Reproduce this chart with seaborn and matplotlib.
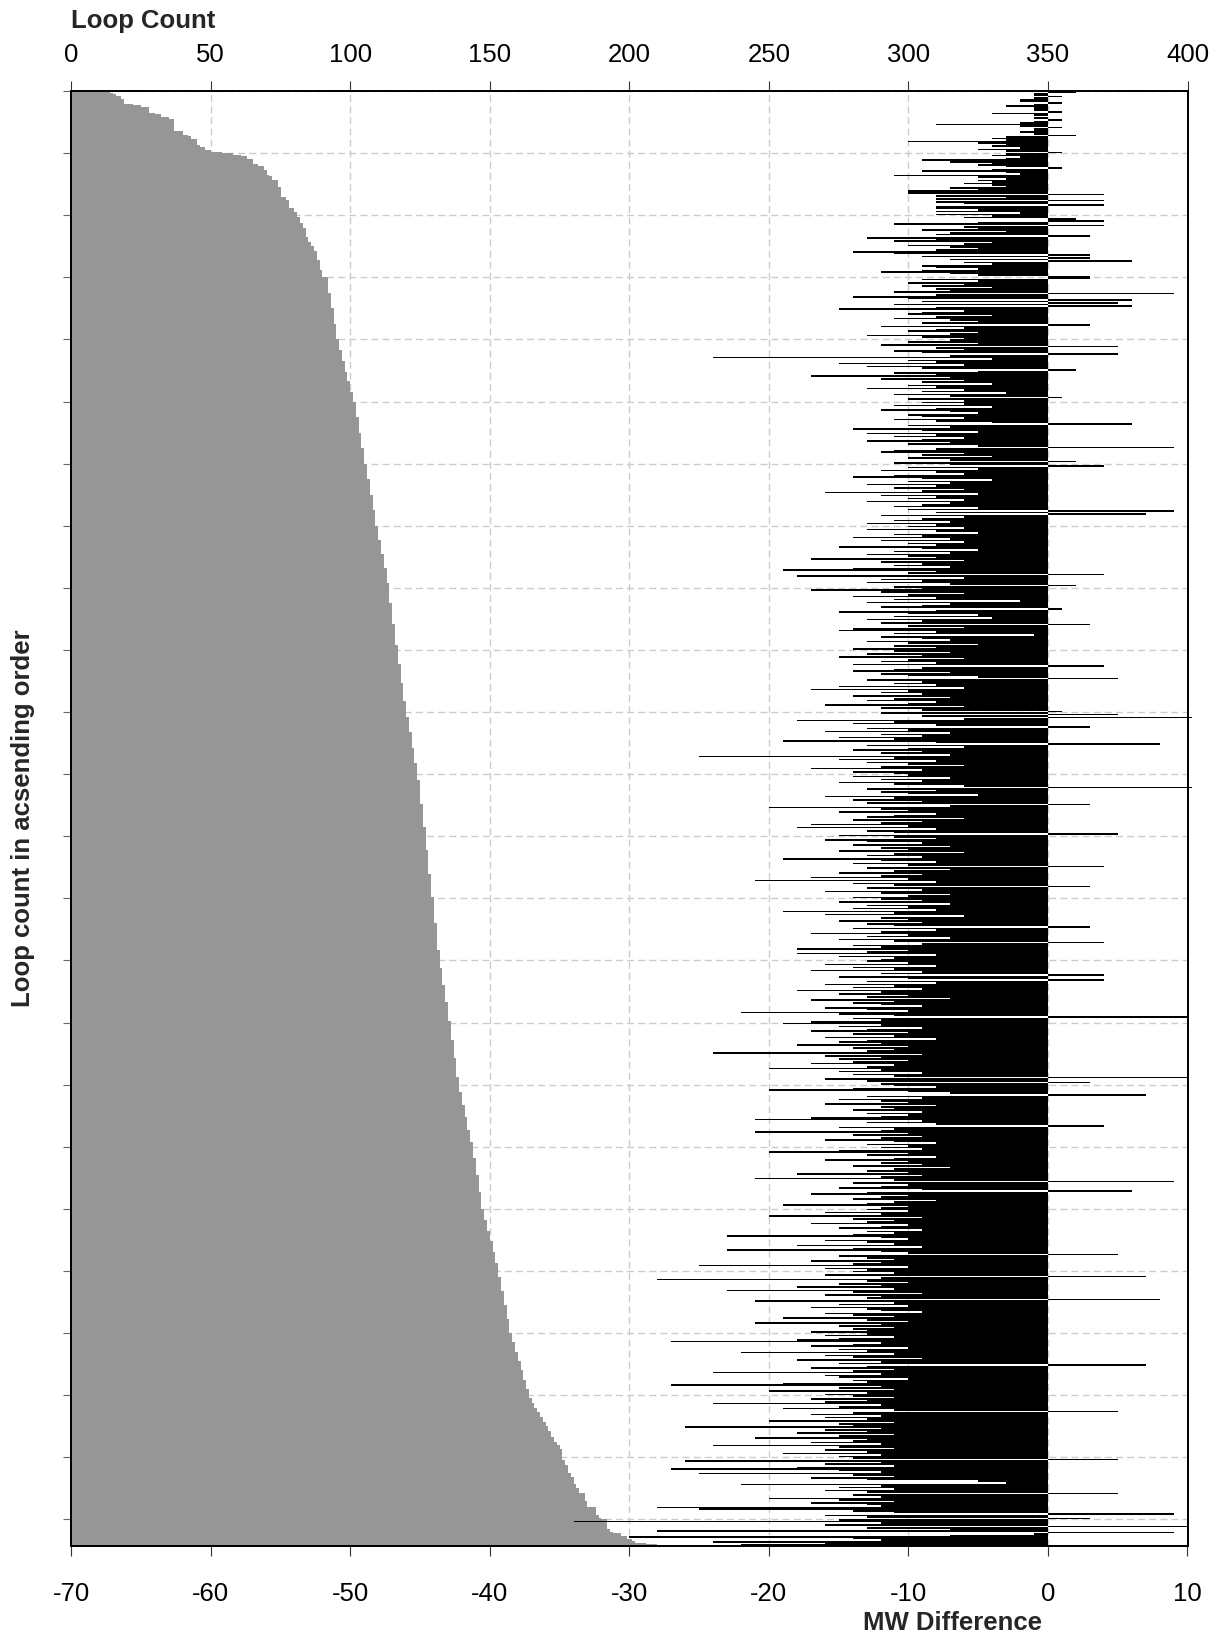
import numpy as np
import pandas as pd
import matplotlib
matplotlib.use("Agg")
import matplotlib.pyplot as plt
import seaborn as sns

# ---------------- data ----------------
# Loop count (sorted ascending), written as run lengths: value, number of rows
lc_values = [14, 15, 16, 18, 19, 22, 25, 28, 30, 32, 35, 37, 40, 42, 43, 45, 46, 48, 50, 54,
             58, 61, 63, 65, 67, 69, 70, 71, 72, 74, 75, 77, 78, 80, 81, 82, 83, 84, 85, 86,
             87, 88, 89, 90, 92, 93, 94, 95, 96, 97, 98, 99, 100, 101, 102, 103, 104, 105,
             106, 107, 108, 109, 110, 111, 112, 113, 114, 115, 116, 117, 118, 119, 120, 121,
             122, 123, 124, 125, 126, 127, 128, 129, 130, 131, 132, 133, 134, 135, 136, 137,
             138, 139, 140, 141, 142, 143, 144, 145, 146, 147, 148, 149, 150, 151, 152, 153,
             154, 155, 156, 157, 158, 159, 160, 161, 162, 163, 164, 165, 166, 167, 168, 169,
             170, 171, 172, 173, 174, 175, 176, 177, 178, 179, 180, 181, 182, 184, 185, 188,
             189, 190, 192, 193, 194, 197, 199, 201, 202, 206, 210]
lc_runs = [1, 1, 1, 2, 3, 1, 1, 4, 1, 2, 1, 8, 2, 1, 2, 4, 1, 2, 1, 1,
           1, 1, 2, 3, 1, 3, 3, 1, 2, 5, 6, 2, 5, 3, 3, 4, 3, 6, 3, 3,
           3, 6, 6, 5, 10, 10, 10, 10, 7, 7, 7, 6, 7, 6, 10, 10, 10, 10,
           10, 10, 10, 10, 9, 9, 9, 10, 13, 13, 14, 12, 12, 12, 10, 10,
           10, 10, 11, 15, 15, 15, 15, 15, 17, 17, 12, 11, 11, 12, 12, 12,
           12, 10, 8, 8, 8, 8, 10, 11, 11, 11, 7, 7, 7, 7, 7, 9,
           9, 9, 9, 9, 6, 6, 6, 6, 6, 6, 6, 3, 3, 3, 3, 3,
           3, 3, 4, 3, 2, 3, 7, 3, 5, 3, 4, 3, 3, 5, 4, 5,
           2, 1, 6, 2, 1, 2, 2, 1, 1, 1, 1]

# MW difference for each row, top to bottom (40 rows per line)
mw_diff = [
    2, -1, -1, 1, -1, -2, -2, 1, -1, -3, -1, -1, -1, 1, -4, -1, 0, -1, 1, -1, -2, -8, -2, 1, -1, -1, -2, -1, 2, -3, -4, -3, -10, -5, -3, -4, -2, -5, -3, 1,
    -3, -4, -2, -3, -9, -7, -4, -5, -3, 1, -4, -9, -3, -2, -11, -5, -3, -5, -4, -6, -4, -3, -7, -5, -10, -10, 4, -8, -3, -8, 4, -8, -6, 4, -8, -8, -5, -8, -2, -8,
    -4, -6, 2, 4, -5, -11, 4, -6, -5, -9, -3, -7, -8, 3, -13, -8, -11, -4, -6, -10, -7, -5, -8, -14, -11, 3, -9, 3, -7, 6, -6, -4, -9, -8, -5, -9, -12, -7, -5, 3,
    3, -9, -5, -10, -6, -9, -4, -8, -7, -11, 9, -8, -14, -10, 6, -9, 5, -11, 6, -8, -15, -6, -9, -10, -4, -8, -11, -7, -5, -9, 3, -12, -6, -8, -10, -5, -7, -13, -9, -6,
    -7, -10, -5, -12, 5, -8, -6, -11, -9, 5, -7, -24, -4, -10, -8, -15, -6, -13, -9, 2, -5, -11, -8, -17, -7, -12, -6, -9, -4, -10, -8, -13, -6, -9, -3, -11, -7, 1, -10, -6,
    -9, -6, -11, -4, -8, -12, -7, -5, -10, -9, -6, -11, -8, -4, 6, -10, -7, -14, -9, -5, -13, -8, -11, -6, -9, -13, -7, -10, -5, 9, -8, -11, -12, -6, -9, -4, -10, -7, 2, -11,
    -7, 4, -10, -5, -12, -8, -6, -11, -14, -9, -4, -10, -7, -13, -8, -11, -6, -9, -16, -5, -12, -8, -10, -6, -13, -7, -9, -11, -5, -10, 9, -8, 7, -12, -6, -9, -11, -7, -13, -8,
    -10, -6, -13, -8, -5, -11, -9, -14, -7, -12, -6, -10, -8, -15, -9, -5, -11, -7, -13, -10, -8, -17, -6, -12, -9, -11, -7, -14, -19, -8, -10, 4, -18, -6, -12, -9, -13, -7, 2, -11,
    -9, -17, -12, -6, -10, -14, -8, -11, -2, -13, -7, -9, -12, 1, -8, -15, -10, -5, -11, -4, -13, -9, -12, 3, -10, -6, -14, -15, -8, -11, -1, -12, -9, -7, -13, -10, -5, -11, -8, -14,
    -11, -7, -13, -9, -15, -6, -10, -12, -8, -14, 4, -9, -11, -14, -7, -12, -10, -5, 5, -13, -9, -11, -8, -15, -6, -17, -10, -12, -9, -14, -7, -11, -13, -8, -10, -16, -6, -12, -9, 1,
    -12, 5, -9, 10.3, -6, -18, -11, -14, -8, 3, -13, -10, -16, -7, -12, -9, -15, -11, -19, -8, 8, -13, -6, -10, -14, -9, -12, -7, -25, -11, -15, -8, -13, -10, -6, -12, -17, -9, -14, -11,
    -10, -14, -7, -12, -9, -15, -11, -6, 10.3, -13, -8, -12, -10, -5, -16, -11, -14, -9, -13, 3, -7, -20, -12, -10, -15, -8, -11, -13, -6, -14, -9, -12, -17, -10, -18, -8, -13, -11, 5, -15,
    -11, -8, -16, -13, -9, -14, -7, -12, -10, -15, -6, -11, -13, -9, -19, -12, -8, -14, -10, 4, -13, -7, -11, -15, -9, -12, -17, -10, -21, -8, -14, -11, 3, -13, -9, -16, -12, -7, -10, -14,
    -12, -9, -15, -7, -13, -10, -14, -8, -19, -11, -16, -6, -12, -10, -15, -9, -13, -11, 3, -14, -8, -12, -17, -10, -13, -7, -15, -11, 4, -9, -14, -12, -18, -10, -13, -18, -8, -15, -11, -12,
    -13, -10, -16, -8, -14, -11, -17, -9, -12, 4, -15, -10, 4, -13, -8, -16, -11, -14, -9, -18, -12, -15, -10, -13, -7, -17, -11, -14, -12, -9, -16, -13, -10, -22, -15, -11, 10, -14, -12, -17,
    -19, -12, -15, -9, -13, -17, -10, -14, -11, -16, -8, -13, -15, -12, -18, -10, -14, -11, -13, -24, -9, -16, -12, -15, -10, -14, -17, -11, -13, -20, -12, -15, -9, -14, -11, 10, -16, -13, 3, -12,
    -11, -8, -14, -20, -10, -7, 7, -13, -9, -15, -12, -10, -16, -8, -12, -11, -14, -9, -13, -10, -12, -17, -21, -9, -13, -8, 4, -15, -11, -12, -21, -10, -14, -9, -12, -16, -11, -8, -13, -10,
    -12, -9, -15, -20, -10, -13, -8, -11, -16, -10, -12, -9, -14, -7, -11, -13, -10, -18, -9, -12, -21, -11, 9, -14, -10, -12, -15, -9, 6, -13, -17, -10, -12, -14, -8, -11, -13, -19, -10, -12,
    -13, -10, -16, -12, -20, -9, -14, -11, -13, -17, -10, -12, -15, -9, -13, -11, -14, -23, -12, -10, -16, -13, -11, -18, -9, -14, -23, -12, -10, 5, -15, -13, -11, -17, -12, -14, -25, -10, -16, -13,
    -14, -11, -16, 7, -12, -28, -13, -10, -15, -12, -18, -11, -23, -14, -9, -16, -12, -13, 8, -21, -11, -15, -10, -17, -13, -12, -9, -16, -14, -11, -19, -13, -10, -21, -12, -15, -11, -14, -13, -17,
    -13, -16, -11, -15, -18, -27, -12, -14, -17, -10, -15, -13, -22, -11, -16, -14, -9, -18, -12, -15, 7, -13, -17, -11, -14, -24, -12, -16, -15, -10, -14, -13, -19, -27, -12, -15, -11, -20, -13, -16,
    -14, -11, -17, -13, -16, -24, -12, -15, -19, -11, 5, -14, -17, -12, -16, -13, -20, -11, -15, -14, -26, -12, -16, -13, -18, -11, -15, -21, -13, -14, -17, -12, -24, -15, -11, -16, -13, -19, -12, -15,
    -14, 5, -26, -12, -16, -11, -18, -27, -15, -12, -25, -14, -11, -17, -13, -5, -3, -22, -12, -15, -11, -16, -13, 5, -14, -12, -20, -15, -11, -17, -13, -12, -28, -25, -14, -11, 9, -16, -13, 3,
    -15, -34, -12, -16, 10, -13, -7, -28, 9, -1, -7, -30, -14, -12, -24, -16, -22,
]

lc_ticks = [0, 50, 100, 150, 200, 250, 300, 350, 400]
mw_ticks = [-70, -60, -50, -40, -30, -20, -10, 0, 10]
row_tick_step = 40

# ---------------- styling ----------------
sns.set_theme(style="white")
plt.rcParams["font.family"] = ["Liberation Sans", "DejaVu Sans"]

loop_count = np.repeat(lc_values, lc_runs)
n = min(len(loop_count), len(mw_diff))
df = pd.DataFrame({
    "row": np.arange(n) + 0.5,
    "loop_count": loop_count[:n],
    "mw": np.asarray(mw_diff[:n], dtype=float),
})

W, H = 1221, 1642
left, right, top, bottom = 71.2, 1187.5, 91.1, 1545.7
fig = plt.figure(figsize=(W / 100, H / 100), dpi=100)
ax_lc = fig.add_axes([left / W, 1 - bottom / H, (right - left) / W, (bottom - top) / H])
ax_mw = ax_lc.twiny()

sns.barplot(data=df, x="loop_count", y="row", orient="y", native_scale=True,
            width=1, color="#969696", saturation=1, errorbar=None,
            linewidth=0, ax=ax_lc)
sns.barplot(data=df, x="mw", y="row", orient="y", native_scale=True,
            width=1, color="black", saturation=1, errorbar=None,
            linewidth=0, ax=ax_mw)

for p in ax_lc.patches:
    p.set_antialiased(False)
for p in ax_mw.patches:
    p.set_antialiased(False)
    if p.get_x() + p.get_width() > 10:
        p.set_clip_on(False)

ax_lc.set_xlim(0, 400)
ax_mw.set_xlim(-70, 10)
ax_lc.set_ylim(n, 0)

# top axis: loop count
ax_lc.xaxis.tick_top()
ax_lc.xaxis.set_label_position("top")
ax_lc.set_xticks(lc_ticks)
ax_lc.set_xticklabels([str(t) for t in lc_ticks])
ax_lc.tick_params(axis="x", top=True, bottom=False, labeltop=True, labelbottom=False,
                  direction="out", length=7, width=0.8, color="#333333",
                  pad=10, labelsize=18.5, labelcolor="black")
ax_lc.set_yticks(list(range(0, n, row_tick_step)))
ax_lc.set_yticklabels([])
ax_lc.tick_params(axis="y", left=True, right=False, direction="out", length=6,
                  width=0.8, color="#666666")

# bottom axis: MW difference
ax_mw.xaxis.tick_bottom()
ax_mw.xaxis.set_label_position("bottom")
ax_mw.set_xticks(mw_ticks)
ax_mw.set_xticklabels([str(t) for t in mw_ticks])
ax_mw.tick_params(axis="x", bottom=True, top=False, labelbottom=True, labeltop=False,
                  direction="out", length=7, width=0.8, color="#333333",
                  pad=19, labelsize=18.5, labelcolor="black")

# grid (under the bars)
ax_lc.set_axisbelow(True)
ax_lc.grid(True, color="#cccccc", linestyle=(0, (5, 3)), linewidth=1)
ax_mw.grid(False)

for ax in (ax_lc, ax_mw):
    for s in ax.spines.values():
        s.set_linewidth(1.3)
        s.set_color("black")

ax_lc.set_xlabel("Loop Count", fontsize=18.5, fontweight="bold")
ax_lc.xaxis.set_label_coords(0.0, 1 + (top - 28.3) / (bottom - top))
ax_lc.xaxis.label.set_ha("left")
ax_lc.xaxis.label.set_va("baseline")

ax_mw.set_xlabel("MW Difference", fontsize=18.5, fontweight="bold")
ax_mw.xaxis.set_label_coords((863 - left) / (right - left), -(1630 - bottom) / (bottom - top))
ax_mw.xaxis.label.set_ha("left")
ax_mw.xaxis.label.set_va("baseline")

ax_lc.set_ylabel("Loop count in acsending order", fontsize=18.5, fontweight="bold")
ax_lc.yaxis.set_label_coords(-(left - 23.5) / (right - left), 0.5)
ax_lc.yaxis.label.set_va("center")
ax_mw.set_ylabel("")

fig.savefig("out.png", dpi=100)
